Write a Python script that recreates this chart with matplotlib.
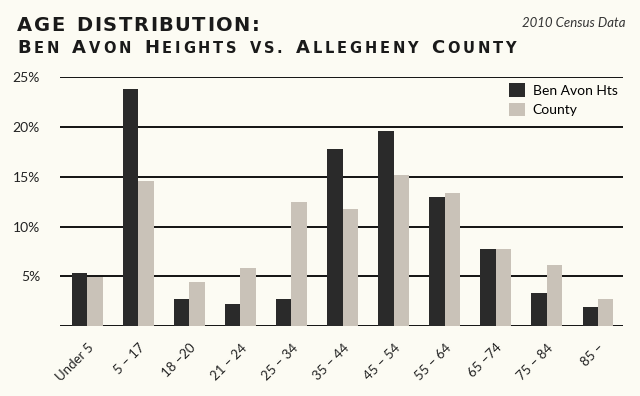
import matplotlib
matplotlib.use("Agg")
import matplotlib.pyplot as plt
import numpy as np

# Datos
grupos = ["Under 5", "5 – 17", "18 –20", "21 – 24", "25 – 34", "35 – 44",
          "45 – 54", "55 – 64", "65 –74", "75 – 84", "85 –"]
ben_avon = [5.3, 23.8, 2.7, 2.2, 2.7, 17.8, 19.6, 13.0, 7.7, 3.3, 1.9]
county = [4.9, 14.6, 4.4, 5.8, 12.5, 11.8, 15.2, 13.4, 7.7, 6.1, 2.7]
ticks_y = [5, 10, 15, 20, 25]

fondo = "#fcfbf3"
oscuro = "#2a2a2a"
claro = "#c9c2b8"
letra = ["Lato", "DejaVu Sans"]

fig = plt.figure(figsize=(6.4, 3.96), dpi=100, facecolor=fondo)
ax = fig.add_axes([0.094, 0.176, 0.88, 0.63])
ax.set_facecolor(fondo)

x = np.arange(len(grupos))
w = 0.3
ax.bar(x - w / 2, ben_avon, w, color=oscuro, label="Ben Avon Hts", zorder=3)
ax.bar(x + w / 2, county, w, color=claro, label="County", zorder=3)

ax.set_xlim(-0.53, 10.5)
ax.set_ylim(0, 25)
for v in [0] + ticks_y:
    ax.axhline(v, color="black", lw=1.3, zorder=2)

for s in ax.spines.values():
    s.set_visible(False)
ax.set_yticks(ticks_y)
ax.set_yticklabels([f"{t}%" for t in ticks_y], fontsize=10, color="#222222",
                   family=letra)
ax.tick_params(axis="y", length=0, pad=14.5)
ax.tick_params(axis="x", length=0, pad=11)
ax.set_xticks(x)
ax.set_xticklabels(grupos, rotation=45, ha="right", rotation_mode="anchor",
                   fontsize=9.5, color="#222222", family=letra)

ax.legend(loc="upper right", bbox_to_anchor=(0.99, 0.975), frameon=False,
          prop={"family": letra, "size": 10}, handlelength=1.2,
          handleheight=1.15, handletextpad=0.55, labelspacing=0.42,
          borderpad=0, borderaxespad=0)

# Titulo: letra por letra para ajustar el espaciado
fig.canvas.draw()
r = fig.canvas.get_renderer()
W = fig.bbox.width


def titulo(piezas, x0, x1, y0):
    textos = []
    total = 0
    for c, tam in piezas:
        t = fig.text(0, y0, c, fontsize=tam, fontweight="bold",
                     color="#1a1a1a", va="baseline", ha="left",
                     family="DejaVu Sans")
        if c == " ":
            ancho = tam * 0.45 / 72 * fig.dpi
        else:
            ancho = t.get_window_extent(r).width
        textos.append((t, ancho))
        total += ancho
    extra = ((x1 - x0) * W - total) / (len(piezas) - 1)
    xp = x0 * W
    for t, ancho in textos:
        t.set_x(xp / W)
        xp += ancho + extra


def versalitas(frase, grande, chico):
    piezas = []
    for c in frase:
        if c.isupper() or c == " ":
            piezas.append((c, grande))
        else:
            piezas.append((c.upper(), chico))
    return piezas


titulo([(c, 14) for c in "AGE DISTRIBUTION:"], 0.027, 0.405, 0.922)
titulo(versalitas("Ben Avon Heights vs. Allegheny County", 13, 10.5),
       0.027, 0.806, 0.866)
fig.text(0.978, 0.932, "2010 Census Data", fontsize=9.5, style="italic",
         color="#333333", ha="right", va="baseline", family=letra)

fig.savefig("out.png", dpi=100, facecolor=fondo)
